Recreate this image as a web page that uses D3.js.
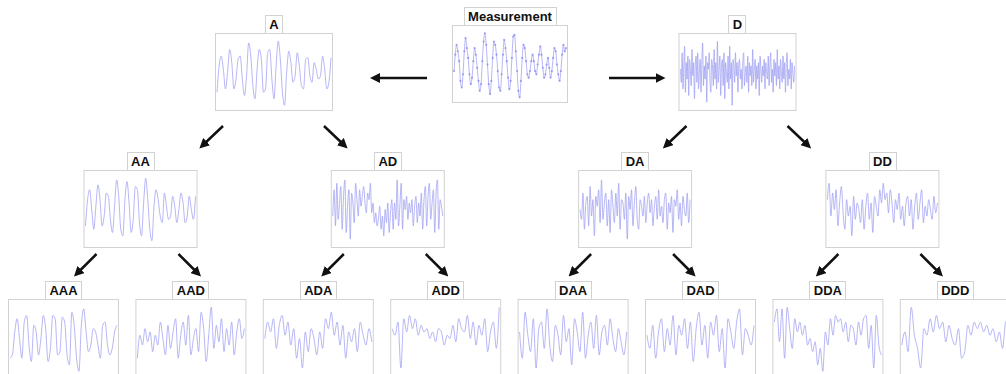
<!DOCTYPE html>
<html>
<head>
<meta charset="utf-8">
<script src="https://cdn.jsdelivr.net/npm/d3@7"></script>
<style>
  html, body { margin: 0; padding: 0; background: #fff; }
  svg { display: block; }
</style>
</head>
<body>
<svg id="chart" width="1006" height="374"></svg>
<script>
// Wavelet packet decomposition tree: measured signal split into
// approximation (A) and detail (D) branches over three levels.

const nodeNames = ["Measurement", "A", "D", "AA", "AD", "DA", "DD",
  "AAA", "AAD", "ADA", "ADD", "DAA", "DAD", "DDA", "DDD"];

const measurement = [-0.2,0.3,0.6,0.4,0.1,-0.5,-0.7,-0.3,0.4,0.8,0.5,0.2,-0.3,-0.6,-0.4,0.1,0.5,0.3,-0.1,-0.5,-0.8,-0.6,0.1,0.7,0.95,0.6,0.0,-0.6,-0.9,-0.5,0.2,0.7,0.6,0.3,-0.2,-0.7,-0.8,-0.3,0.3,0.75,0.5,0.1,-0.4,-0.75,-0.5,0.2,0.85,0.9,0.4,-0.2,-0.8,-1.0,-0.5,0.2,0.6,0.5,0.1,-0.3,-0.4,-0.2,0.1,0.3,0.1,-0.2,-0.3,0.0,0.3,0.55,0.3,-0.1,-0.4,-0.3,0.0,0.2,-0.1,-0.4,-0.2,0.2,0.5,0.4,0.0,-0.3,-0.5,-0.2,0.3,0.6,0.4,0.5];

const sigA = [-0.6,0.2,0.5,0.1,-0.5,0.0,0.7,0.3,-0.5,-0.2,0.4,0.5,-0.2,-0.7,-0.1,0.9,0.5,-0.4,-0.8,0.1,0.7,0.4,-0.6,-0.5,0.6,0.7,-0.2,-0.8,0.2,0.95,0.4,-0.6,-1.0,0.0,0.65,0.3,-0.3,-0.1,0.6,0.2,-0.4,-0.5,0.4,0.45,-0.1,-0.3,0.3,0.1,-0.2,-0.1,0.5,0.1,-0.5,-0.3,0.45];

const sigD = [0.1,-0.3,0.6,-0.5,0.2,0.8,-0.6,0.3,-0.2,0.5,-0.7,0.4,0.1,-0.4,0.7,-0.1,0.3,-0.8,0.2,0.5,-0.3,0.6,-0.5,0.0,0.4,-0.6,0.3,0.9,-0.4,0.2,-0.2,0.5,-0.9,0.3,0.1,0.6,-0.3,-0.6,0.4,0.2,-0.4,0.7,-0.2,0.3,-0.5,0.95,-0.3,0.1,0.5,-0.7,0.2,0.4,-0.4,0.6,-0.8,0.3,0.0,-0.3,0.5,-0.5,0.8,-0.2,0.3,-1.0,0.4,0.2,-0.3,0.6,-0.1,0.3,-0.6,0.2,0.4,-0.2,0.1,-0.5,0.3,0.6,-0.4,0.0,0.2,-0.3,0.5,-0.6,0.3,-0.1,0.2,-0.4,0.7,-0.3,0.1,0.4,-0.5,0.2,-0.2,0.3,-0.7,0.5,0.1,-0.3,0.2,-0.1,0.4,-0.5,0.3,0.0,-0.2,0.5,-0.4,0.2,0.6,-0.3,0.1,-0.6,0.4,-0.1,0.3,-0.4,0.7,-0.2,0.2,-0.5,0.4,0.0,-0.3,0.5,-0.2,0.3,-0.6,0.2,0.6,-0.4,0.1,-0.2,0.4,-0.5,0.3,0.0,-0.3,0.2];

const sigAA = [-0.5,0.3,0.6,0.0,-0.6,0.1,0.75,0.3,-0.5,-0.2,0.5,0.4,-0.3,-0.7,0.1,0.9,0.4,-0.6,-0.8,0.3,0.85,0.2,-0.7,-0.3,0.7,0.6,-0.4,-0.8,0.2,0.95,0.3,-0.6,-0.95,0.1,0.6,0.3,-0.2,-0.4,0.5,0.1,-0.3,-0.2,0.4,0.1,-0.4,0.0,0.5,0.2,-0.4,-0.2,0.4,0.0,-0.3,0.4];

const sigAD = [-0.2,0.6,-0.5,0.8,-0.3,0.2,0.7,-0.6,0.4,0.9,-0.7,0.1,0.6,-0.9,0.5,0.2,-0.4,0.8,0.3,-0.2,0.6,0.1,0.4,0.7,0.2,-0.1,0.5,0.3,0.8,-0.1,0.2,-0.4,-0.1,-0.5,-0.3,0.1,-0.6,-0.2,-0.8,0.0,-0.4,0.2,-0.7,-0.1,0.3,-0.6,0.2,-0.3,0.9,-0.5,0.1,0.8,-0.6,0.3,0.0,0.4,-0.3,0.2,-0.1,0.3,-0.5,0.1,0.4,-0.4,0.2,-0.2,0.5,-0.6,0.3,0.7,-0.5,0.4,0.8,-0.3,0.2,0.6,-0.7,0.5,0.9,-0.6,0.3,0.1,-0.2];

const sigDA = [0.0,-0.3,0.5,-0.6,0.2,0.4,-0.5,0.7,-0.2,0.3,-0.8,0.4,0.1,0.6,-0.4,0.9,-0.3,0.2,0.5,-0.5,0.3,-0.7,0.6,0.1,-0.4,0.5,-0.2,0.8,-0.6,0.3,0.2,-0.3,0.5,-0.9,0.4,0.0,0.6,-0.5,0.2,0.7,-0.3,-0.6,0.3,0.1,-0.2,0.4,-0.4,0.2,0.5,-0.1,0.3,-0.5,0.1,0.4,-0.3,0.6,-0.2,0.1,-0.4,0.3,0.5,-0.6,0.2,-0.1,0.4,-0.7,0.3,0.1,0.6,-0.3,0.2,-0.5,0.4,0.0,-0.2,0.5,-0.4,0.3];

const sigDD = [0.3,0.8,-0.2,0.5,0.0,0.6,-0.5,0.2,0.7,-0.1,-0.6,0.3,-0.2,0.1,-0.8,0.4,-0.3,0.2,0.0,-0.4,0.3,-0.6,0.1,0.5,-0.3,0.2,-0.7,0.4,0.1,-0.2,0.6,0.2,0.8,0.3,0.5,-0.1,0.6,0.2,-0.4,0.3,0.0,0.5,-0.3,0.1,-0.5,0.2,0.4,-0.2,0.3,-0.6,0.1,0.5,-0.3,0.2,0.6,-0.4,0.1,-0.2,0.3,0.0,-0.3,0.4,-0.1,0.2];

const sigAAA = [-0.6,-0.5,0.2,0.6,0.0,-0.6,0.5,0.7,-0.2,-0.7,0.4,0.2,-0.5,0.0,0.7,0.3,-0.7,-0.3,0.7,0.6,-0.5,-0.4,0.65,0.5,-0.5,-0.8,0.8,0.4,-0.6,-1.0,0.4,0.9,0.2,-0.4,-0.2,0.3,0.2,-0.2,-0.6,0.4,0.5,-0.2,-0.5,-0.3,0.2,0.4];

const sigAAD = [-0.6,0.1,-0.2,0.3,-0.1,0.2,-0.4,0.1,-0.2,0.5,0.0,-0.5,0.4,-0.3,0.2,0.6,-0.6,0.1,0.5,-0.2,0.7,-0.5,0.0,0.3,-0.4,0.8,0.3,-0.7,0.1,0.95,-0.3,0.4,-0.1,0.6,-0.4,0.3,-0.2,0.5,-0.5,0.2,0.6,0.0,0.3];

const sigADA = [0.0,0.5,0.2,0.6,-0.3,0.4,0.7,0.1,0.5,-0.2,0.3,-0.6,0.0,-0.9,0.2,-0.4,0.3,0.0,-0.5,0.2,-0.3,0.6,0.3,0.8,0.1,0.5,-0.2,0.4,-0.6,0.2,-0.1,0.3,-0.4,0.5,0.1,-0.2,0.3,-0.1];

const sigADD = [0.3,0.1,0.5,-0.9,0.6,0.2,0.7,0.3,0.6,0.1,0.4,0.2,0.3,0.0,0.2,-0.1,0.3,0.2,-0.2,0.1,0.0,0.4,-0.1,0.6,0.3,0.2,0.7,0.0,0.5,-0.2,0.4,0.1,0.6,-0.4,0.2,0.5,-0.3,0.95];

const sigDAA = [0.2,-0.6,0.8,0.1,-0.4,0.6,-0.9,0.3,0.5,-0.3,0.9,-0.2,-0.7,0.4,0.1,-0.5,0.7,-0.1,0.3,-0.8,0.6,0.2,-0.4,0.8,-0.6,0.1,0.5,-0.3,0.7,-0.5,0.2,0.4,-0.2,0.6,0.0,-0.4,0.3,-0.1,-0.5,0.2];

const sigDAD = [0.1,-0.3,0.4,-0.6,0.2,0.6,-0.4,0.3,-0.2,0.7,-0.5,0.4,0.1,0.6,-0.3,0.5,-0.7,0.3,0.8,-0.2,0.4,-0.6,0.5,0.1,0.7,-0.4,0.3,-0.9,0.6,0.2,-0.3,0.5,0.9,-0.5,0.3,0.1,-0.2,0.4];

const sigDDA = [0.5,0.9,-0.1,0.9,-0.6,0.95,0.3,-0.3,0.6,0.2,0.5,0.1,0.4,-0.2,0.0,-0.4,-0.1,-0.8,-0.3,-1.0,0.2,-0.2,0.6,0.1,0.7,0.5,0.6,0.2,0.5,-0.1,0.4,0.3,-0.2,0.5,0.1,0.6,0.7,-0.3,0.4,-0.9,0.7,-0.2,-0.5];

const sigDDD = [-0.2,0.2,-0.4,0.95,0.1,-0.3,-0.9,0.3,0.1,0.6,0.2,0.7,0.3,0.5,-0.1,0.4,0.0,-0.2,0.3,-0.6,-0.4,0.4,0.1,0.5,0.3,0.5,0.2,0.4,0.1,0.3,-0.1,0.2,-0.3,0.5,0.6];

const signals = [measurement, sigA, sigD, sigAA, sigAD, sigDA, sigDD,
  sigAAA, sigAAD, sigADA, sigADD, sigDAA, sigDAD, sigDDA, sigDDD];

// ---- layout of the tree ----
const levelOf = i => i === 0 ? 0 : i < 3 ? 1 : i < 7 ? 2 : 3;
const indexInLevel = i => i - [0, 1, 3, 7][levelOf(i)];

const levelTop = [25, 33, 170, 299];
const levelWidth = [115, 117, 113, 110];
const boxH = 77;
const centerOf = (lvl, k) => {
  if (lvl === 0) return 509.5;
  if (lvl === 1) return k === 0 ? 273.5 : 737;
  if (lvl === 2) return 140 + k * 247.3;
  return 63 + k * 127.4;
};

const nodes = nodeNames.map((name, i) => {
  const lvl = levelOf(i), k = indexInLevel(i);
  const w = levelWidth[lvl];
  const cx = centerOf(lvl, k);
  return { name, values: signals[i], lvl, x0: cx - w / 2, x1: cx + w / 2, y0: levelTop[lvl], y1: levelTop[lvl] + boxH };
});

const svg = d3.select("#chart");
const lineColor = "#9d9df3";

svg.append("defs").append("marker")
  .attr("id", "head")
  .attr("viewBox", "0 0 10 10")
  .attr("refX", 5).attr("refY", 5)
  .attr("markerWidth", 4).attr("markerHeight", 4)
  .attr("orient", "auto")
  .append("path").attr("d", "M0,0 L10,5 L0,10 Z").attr("fill", "#111");

// ---- panels ----
nodes.forEach((n, i) => {
  const g = svg.append("g");
  g.append("rect")
    .attr("x", n.x0 + 0.5).attr("y", n.y0 + 0.5)
    .attr("width", n.x1 - n.x0).attr("height", n.y1 - n.y0)
    .attr("fill", "#fff").attr("stroke", "#d2d2d2").attr("stroke-width", 1);

  const x = d3.scaleLinear().domain([0, n.values.length - 1]).range([n.x0 + 2, n.x1 - 1]);
  const y = d3.scaleLinear().domain([-1.08, 1.08]).range([n.y1 - 2, n.y0 + 4]);
  const line = d3.line().x((d, j) => x(j)).y(d => y(d)).curve(d3.curveMonotoneX);

  g.append("path")
    .datum(n.values)
    .attr("d", line)
    .attr("fill", "none")
    .attr("stroke", lineColor)
    .attr("stroke-opacity", 0.75)
    .attr("stroke-width", 1);

  if (i === 0) {
    g.selectAll("circle").data(n.values).join("circle")
      .attr("cx", (d, j) => x(j)).attr("cy", d => y(d))
      .attr("r", 1.1).attr("fill", "#8585ee").attr("fill-opacity", 0.7);
  }

  // title tag sitting on top of the panel
  const label = g.append("text")
    .attr("x", (n.x0 + n.x1) / 2 + 0.5)
    .attr("y", n.y0 - 4)
    .attr("text-anchor", "middle")
    .attr("font-family", "'Liberation Sans', Arial, sans-serif")
    .attr("font-weight", "bold")
    .attr("font-size", 13)
    .attr("fill", "#111")
    .text(n.name);
  const tw = label.node().getComputedTextLength();
  g.insert("rect", "text")
    .attr("x", Math.round((n.x0 + n.x1) / 2 - tw / 2 - 4) + 0.5)
    .attr("y", n.y0 - 17.5)
    .attr("width", Math.round(tw + 8))
    .attr("height", 18)
    .attr("fill", "#fff").attr("stroke", "#d2d2d2");
});

// ---- arrows from each parent to its two children ----
const arrows = [];
const root = nodes[0];
arrows.push([root.x0 - 25, 78, nodes[1].x1 + 43, 78]);
arrows.push([root.x1 + 42, 78, nodes[2].x0 - 18, 78]);
[1, 2].forEach(p => {
  const n = nodes[p];
  arrows.push([n.x0 + 8, n.y1 + 16, n.x0 - 12, n.y1 + 35]);
  arrows.push([n.x1 - 8, n.y1 + 16, n.x1 + 12, n.y1 + 35]);
});
[3, 4, 5, 6].forEach(p => {
  const n = nodes[p];
  arrows.push([n.x0 + 13, n.y1 + 7, n.x0 - 6, n.y1 + 26]);
  arrows.push([n.x1 - 18, n.y1 + 7, n.x1 + 1, n.y1 + 26]);
});

svg.append("g").selectAll("line").data(arrows).join("line")
  .attr("x1", d => d[0]).attr("y1", d => d[1])
  .attr("x2", d => d[2]).attr("y2", d => d[3])
  .attr("stroke", "#111").attr("stroke-width", 2.5)
  .attr("marker-end", "url(#head)");
</script>
</body>
</html>
